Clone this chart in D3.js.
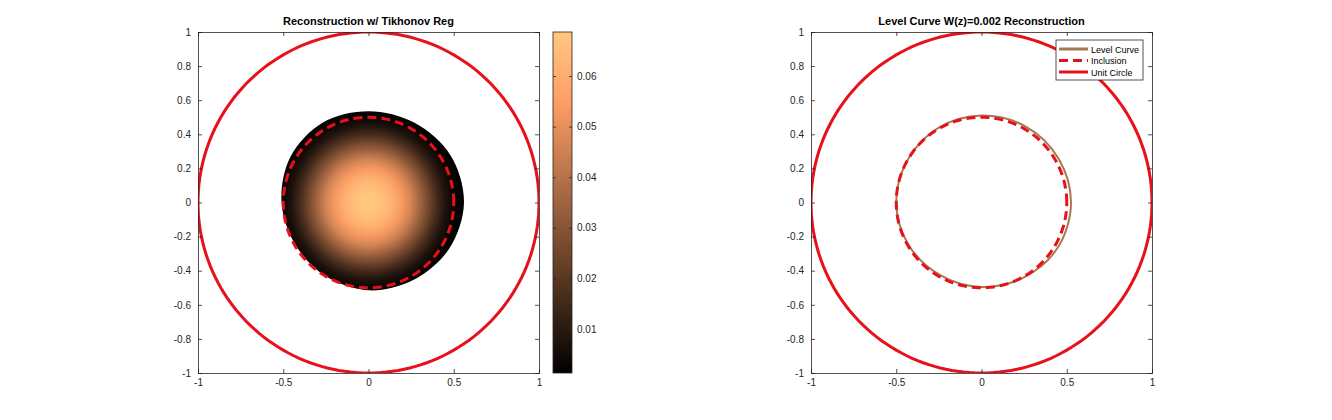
<!DOCTYPE html>
<html>
<head>
<meta charset="utf-8">
<script src="https://cdn.jsdelivr.net/npm/d3@7"></script>
<style>
  body { margin: 0; background: #fff; }
  text { font-family: "Liberation Sans", Arial, sans-serif; }
</style>
</head>
<body>
<svg id="fig" width="1332" height="420"></svg>
<script>
// ---- data ----
var xTicks = [-1, -0.5, 0, 0.5, 1];
var xTickLabels = ["-1", "-0.5", "0", "0.5", "1"];
var yTicks = [-1, -0.8, -0.6, -0.4, -0.2, 0, 0.2, 0.4, 0.6, 0.8, 1];
var yTickLabels = ["-1", "-0.8", "-0.6", "-0.4", "-0.2", "0", "0.2", "0.4", "0.6", "0.8", "1"];
var cbTicks = [0.01, 0.02, 0.03, 0.04, 0.05, 0.06];
var cbTickLabels = ["0.01", "0.02", "0.03", "0.04", "0.05", "0.06"];
var cRange = [0.0013, 0.0687];

// boundary of reconstructed region (angle in degrees, radius)
var blobAngles = [0, 30, 60, 90, 120, 150, 180, 210, 240, 270, 300, 330];
var blobRadii = [0.56, 0.555, 0.54, 0.535, 0.54, 0.53, 0.51, 0.495, 0.5, 0.515, 0.525, 0.545];

// radial profile of the reconstruction
var profileR = [0, 0.05, 0.1, 0.15, 0.2, 0.25, 0.3, 0.35, 0.4, 0.45, 0.5, 0.56];
var profileV = [0.0687, 0.068, 0.065, 0.06, 0.053, 0.046, 0.036, 0.026, 0.016, 0.008, 0.003, 0.0013];

// level curve W(z)=0.002
var levelAngles = [0, 30, 60, 90, 120, 150, 180, 210, 240, 270, 300, 330];
var levelRadii = [0.525, 0.52, 0.515, 0.51, 0.505, 0.5, 0.5, 0.495, 0.49, 0.495, 0.505, 0.52];

var inclusionRadius = 0.5;
var unitRadius = 1;

var legendItems = ["Level Curve", "Inclusion", "Unit Circle"];

// ---- setup ----
var svg = d3.select("#fig");
var defs = svg.append("defs");

var red = "#e8101a";
var brown = "#a87850";
var axisCol = "#262626";

var color = d3.scaleLinear()
  .domain([cRange[0], cRange[0] + 0.8 * (cRange[1] - cRange[0]), cRange[1]])
  .range(["#000000", "#ff9f65", "#ffc77f"]);

function makeAxes(left, title, id) {
  var top = 32, size = 341;
  var x = d3.scaleLinear().domain([-1, 1]).range([left, left + size]);
  var y = d3.scaleLinear().domain([-1, 1]).range([top + size, top]);

  var g = svg.append("g").attr("id", id);

  // clip
  defs.append("clipPath").attr("id", id + "clip")
    .append("rect").attr("x", left).attr("y", top).attr("width", size).attr("height", size);

  var plot = g.append("g").attr("clip-path", "url(#" + id + "clip)");

  // axes (ticks inward, box on)
  g.append("g").attr("transform", "translate(0," + (top + size) + ")")
    .call(d3.axisBottom(x).tickValues(xTicks).tickSize(-4).tickPadding(6)
      .tickFormat(function (d, i) { return xTickLabels[i]; }));
  g.append("g").attr("transform", "translate(0," + top + ")")
    .call(d3.axisTop(x).tickValues(xTicks).tickSize(-4).tickFormat(""));
  g.append("g").attr("transform", "translate(" + left + ",0)")
    .call(d3.axisLeft(y).tickValues(yTicks).tickSize(-4).tickPadding(7)
      .tickFormat(function (d, i) { return yTickLabels[i]; }));
  g.append("g").attr("transform", "translate(" + (left + size) + ",0)")
    .call(d3.axisRight(y).tickValues(yTicks).tickSize(-4).tickFormat(""));

  g.selectAll(".domain").attr("stroke", axisCol).attr("stroke-width", 0.8);
  g.selectAll(".tick line").attr("stroke", axisCol).attr("stroke-width", 0.8);
  g.selectAll(".tick text").attr("fill", axisCol).style("font-size", "10px");

  g.append("text")
    .attr("x", left + size / 2).attr("y", top - 7)
    .attr("text-anchor", "middle")
    .style("font-size", "11px").style("font-weight", "bold")
    .text(title);

  return { x: x, y: y, g: g, plot: plot, left: left, top: top, size: size };
}

function polarPath(ax, angles, radii) {
  var pts = angles.map(function (a, i) {
    var t = a * Math.PI / 180;
    return [ax.x(radii[i] * Math.cos(t)), ax.y(radii[i] * Math.sin(t))];
  });
  return d3.line().curve(d3.curveCatmullRomClosed.alpha(0.5))(pts);
}

function circlePath(ax, r) {
  var pts = d3.range(0, 361, 2).map(function (a) {
    var t = a * Math.PI / 180;
    return [ax.x(r * Math.cos(t)), ax.y(r * Math.sin(t))];
  });
  return d3.line()(pts);
}

// ---- left: reconstruction ----
var A = makeAxes(198, "Reconstruction w/ Tikhonov Reg", "left");
var pxPerUnit = A.x(1) - A.x(0);

var rg = defs.append("radialGradient").attr("id", "blobGrad")
  .attr("gradientUnits", "userSpaceOnUse")
  .attr("cx", A.x(0)).attr("cy", A.y(0))
  .attr("r", profileR[profileR.length - 1] * pxPerUnit);
rg.selectAll("stop").data(profileR).enter().append("stop")
  .attr("offset", function (d) { return d / profileR[profileR.length - 1]; })
  .attr("stop-color", function (d, i) { return color(profileV[i]); });

A.plot.append("path")
  .attr("d", polarPath(A, blobAngles, blobRadii))
  .attr("fill", "url(#blobGrad)");

A.plot.append("path")
  .attr("d", circlePath(A, inclusionRadius))
  .attr("fill", "none").attr("stroke", red).attr("stroke-width", 3)
  .attr("stroke-dasharray", "9,5");

A.plot.append("path")
  .attr("d", circlePath(A, unitRadius))
  .attr("fill", "none").attr("stroke", red).attr("stroke-width", 3);

// colorbar
var cbX = 553, cbW = 19;
var cy = d3.scaleLinear().domain(cRange).range([A.top + A.size, A.top]);
var lg = defs.append("linearGradient").attr("id", "cbGrad")
  .attr("x1", 0).attr("y1", 1).attr("x2", 0).attr("y2", 0);
lg.selectAll("stop").data(color.domain()).enter().append("stop")
  .attr("offset", function (d) { return (d - cRange[0]) / (cRange[1] - cRange[0]); })
  .attr("stop-color", function (d) { return color(d); });

svg.append("rect")
  .attr("x", cbX).attr("y", A.top).attr("width", cbW).attr("height", A.size)
  .attr("fill", "url(#cbGrad)").attr("stroke", axisCol).attr("stroke-width", 0.8);

var cbg = svg.append("g").attr("transform", "translate(" + (cbX + cbW) + ",0)")
  .call(d3.axisRight(cy).tickValues(cbTicks).tickSize(-3).tickPadding(5)
    .tickFormat(function (d, i) { return cbTickLabels[i]; }));
cbg.select(".domain").remove();
cbg.selectAll(".tick line").attr("stroke", axisCol).attr("stroke-width", 0.8);
cbg.selectAll(".tick text").attr("fill", axisCol).style("font-size", "10px");
var cbg2 = svg.append("g").attr("transform", "translate(" + cbX + ",0)")
  .call(d3.axisLeft(cy).tickValues(cbTicks).tickSize(-3).tickFormat(""));
cbg2.select(".domain").remove();
cbg2.selectAll(".tick line").attr("stroke", axisCol).attr("stroke-width", 0.8);

// ---- right: level curve ----
var B = makeAxes(811, "Level Curve W(z)=0.002 Reconstruction", "right");

B.plot.append("path")
  .attr("d", polarPath(B, levelAngles, levelRadii))
  .attr("fill", "none").attr("stroke", brown).attr("stroke-width", 2);

B.plot.append("path")
  .attr("d", circlePath(B, inclusionRadius))
  .attr("fill", "none").attr("stroke", red).attr("stroke-width", 3)
  .attr("stroke-dasharray", "9,5");

B.plot.append("path")
  .attr("d", circlePath(B, unitRadius))
  .attr("fill", "none").attr("stroke", red).attr("stroke-width", 3);

// legend
var legX = 1056, legY = 40, legW = 87, legH = 40;
var leg = svg.append("g");
leg.append("rect")
  .attr("x", legX).attr("y", legY).attr("width", legW).attr("height", legH)
  .attr("fill", "#fff").attr("stroke", axisCol).attr("stroke-width", 0.8);
var legStyles = [
  { stroke: brown, w: 3, dash: null },
  { stroke: red, w: 3, dash: "9,5" },
  { stroke: red, w: 3, dash: null }
];
legendItems.forEach(function (name, i) {
  var yy = legY + 9 + i * 11.5;
  leg.append("line")
    .attr("x1", legX + 3).attr("x2", legX + 32).attr("y1", yy).attr("y2", yy)
    .attr("stroke", legStyles[i].stroke).attr("stroke-width", legStyles[i].w)
    .attr("stroke-dasharray", legStyles[i].dash);
  leg.append("text")
    .attr("x", legX + 35).attr("y", yy + 3.5)
    .style("font-size", "9px").attr("fill", "#000")
    .text(name);
});
</script>
</body>
</html>
